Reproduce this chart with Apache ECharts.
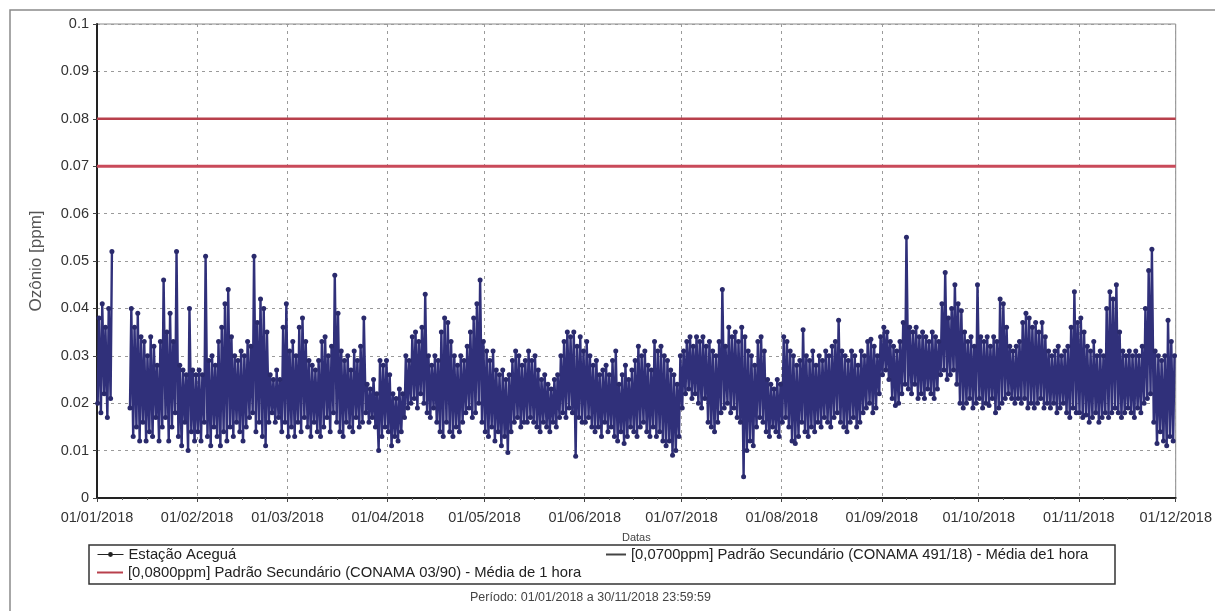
<!DOCTYPE html>
<html>
<head>
<meta charset="utf-8">
<script src="https://cdn.jsdelivr.net/npm/echarts@6/dist/echarts.min.js"></script>
<style>
html,body{margin:0;padding:0;background:#fff;}
#c{width:1215px;height:611px;}
</style>
</head>
<body>
<div id="c"></div>
<script>
// Day 0 = 01/01/2018 ... day 333 = 30/11/2018
const startDate = '2018-01-01';
const endDate = '2018-12-01';
const dailyMax = [
 // Jan
 0.038,0.041,0.036,0.040,0.052,null,null,null,null,null,0.040,0.036,0.039,0.034,0.033,0.030,0.034,0.032,0.028,0.033,0.046,0.035,0.039,0.033,0.052,0.028,0.027,0.026,0.040,0.027,0.026,
 // Feb
 0.027,0.026,0.051,0.029,0.030,0.028,0.033,0.036,0.041,0.044,0.034,0.030,0.029,0.031,0.030,0.033,0.032,0.051,0.037,0.042,0.040,0.035,0.026,0.025,0.027,0.025,0.036,0.041,
 // Mar
 0.031,0.033,0.030,0.036,0.038,0.033,0.029,0.028,0.027,0.029,0.033,0.034,0.030,0.032,0.047,0.039,0.031,0.029,0.030,0.027,0.031,0.029,0.032,0.038,0.024,0.023,0.025,0.022,0.029,0.028,0.029,
 // Apr
 0.026,0.022,0.021,0.023,0.022,0.030,0.029,0.034,0.035,0.033,0.036,0.043,0.030,0.028,0.030,0.029,0.035,0.038,0.037,0.033,0.030,0.028,0.030,0.029,0.032,0.035,0.038,0.041,0.046,0.033,
 // May
 0.031,0.029,0.031,0.027,0.026,0.027,0.025,0.026,0.029,0.031,0.030,0.028,0.029,0.031,0.029,0.030,0.027,0.025,0.026,0.024,0.023,0.025,0.026,0.030,0.033,0.035,0.034,0.035,0.032,0.034,0.031,
 // Jun
 0.033,0.030,0.028,0.029,0.026,0.027,0.028,0.026,0.029,0.031,0.024,0.026,0.028,0.025,0.027,0.029,0.032,0.030,0.031,0.028,0.027,0.033,0.031,0.032,0.030,0.029,0.027,0.026,0.024,0.030,
 // Jul
 0.031,0.033,0.034,0.032,0.034,0.033,0.034,0.032,0.033,0.031,0.030,0.033,0.044,0.032,0.036,0.034,0.035,0.033,0.036,0.034,0.031,0.030,0.028,0.033,0.034,0.031,0.025,0.024,0.023,0.025,0.024,
 // Aug
 0.034,0.033,0.031,0.030,0.028,0.029,0.0355,0.030,0.029,0.031,0.028,0.030,0.029,0.031,0.030,0.032,0.033,0.0375,0.031,0.030,0.029,0.031,0.030,0.028,0.031,0.030,0.033,0.0335,0.032,0.030,0.034,
 // Sep
 0.036,0.035,0.033,0.032,0.031,0.033,0.037,0.055,0.036,0.035,0.036,0.034,0.035,0.034,0.033,0.035,0.034,0.033,0.041,0.0476,0.038,0.040,0.045,0.041,0.0395,0.035,0.033,0.034,0.032,0.045,
 // Oct
 0.034,0.033,0.034,0.032,0.034,0.033,0.042,0.041,0.036,0.032,0.031,0.032,0.033,0.037,0.039,0.038,0.036,0.037,0.035,0.037,0.034,0.031,0.030,0.031,0.032,0.030,0.031,0.032,0.036,0.0435,0.037,
 // Nov
 0.038,0.035,0.032,0.031,0.033,0.030,0.031,0.030,0.040,0.0435,0.042,0.045,0.035,0.031,0.030,0.031,0.030,0.031,0.030,0.032,0.040,0.048,0.0525,0.031,0.030,0.029,0.030,0.0375,0.033,0.030
];
const dailyMin = [
 // Jan
 0.020,0.018,0.022,0.017,0.021,null,null,null,null,null,0.019,0.013,0.015,0.012,0.016,0.012,0.014,0.013,0.017,0.012,0.015,0.017,0.012,0.015,0.018,0.013,0.011,0.016,0.010,0.014,0.012,
 // Feb
 0.014,0.012,0.016,0.013,0.011,0.015,0.013,0.011,0.014,0.012,0.015,0.013,0.016,0.014,0.012,0.015,0.017,0.018,0.014,0.016,0.013,0.011,0.016,0.018,0.016,0.017,0.014,0.016,
 // Mar
 0.013,0.015,0.013,0.016,0.014,0.017,0.015,0.013,0.016,0.014,0.013,0.015,0.017,0.014,0.018,0.016,0.014,0.013,0.016,0.015,0.014,0.017,0.015,0.016,0.018,0.016,0.017,0.015,0.010,0.013,0.015,
 // Apr
 0.014,0.011,0.013,0.012,0.014,0.017,0.019,0.020,0.021,0.019,0.022,0.020,0.018,0.017,0.019,0.016,0.014,0.013,0.016,0.014,0.013,0.015,0.014,0.016,0.018,0.019,0.017,0.018,0.020,0.016,
 // May
 0.014,0.013,0.015,0.012,0.014,0.011,0.013,0.0096,0.014,0.016,0.017,0.015,0.016,0.016,0.017,0.016,0.015,0.014,0.016,0.015,0.014,0.016,0.015,0.017,0.018,0.017,0.019,0.018,0.0088,0.017,0.016,
 // Jun
 0.016,0.017,0.015,0.014,0.015,0.013,0.016,0.014,0.015,0.013,0.012,0.014,0.0115,0.013,0.015,0.014,0.013,0.015,0.016,0.014,0.013,0.015,0.013,0.014,0.012,0.011,0.012,0.009,0.010,0.013,
 // Jul
 0.019,0.022,0.023,0.021,0.022,0.020,0.019,0.021,0.016,0.015,0.014,0.016,0.018,0.019,0.020,0.018,0.019,0.017,0.016,0.0045,0.010,0.012,0.011,0.015,0.017,0.016,0.014,0.013,0.015,0.014,0.013,
 // Aug
 0.016,0.017,0.015,0.012,0.0115,0.013,0.016,0.014,0.013,0.015,0.014,0.016,0.015,0.017,0.016,0.015,0.017,0.018,0.016,0.015,0.014,0.016,0.017,0.015,0.016,0.018,0.019,0.020,0.018,0.019,0.022,
 // Sep
 0.026,0.027,0.025,0.021,0.0195,0.020,0.022,0.024,0.023,0.022,0.024,0.021,0.022,0.021,0.023,0.022,0.021,0.023,0.026,0.027,0.025,0.026,0.027,0.024,0.020,0.019,0.020,0.021,0.019,0.020,
 // Oct
 0.021,0.019,0.020,0.0195,0.021,0.018,0.019,0.020,0.021,0.022,0.021,0.020,0.021,0.020,0.021,0.019,0.020,0.019,0.020,0.021,0.019,0.020,0.019,0.020,0.018,0.019,0.020,0.018,0.017,0.019,0.018,
 // Nov
 0.018,0.017,0.0175,0.016,0.017,0.018,0.016,0.017,0.018,0.017,0.018,0.019,0.018,0.017,0.018,0.019,0.018,0.017,0.019,0.018,0.020,0.021,0.022,0.016,0.0115,0.014,0.012,0.011,0.013,0.012
];
const limit1 = 0.08;  // CONAMA 03/90
const limit2 = 0.07;  // CONAMA 491/18
const yTicks = [0,0.01,0.02,0.03,0.04,0.05,0.06,0.07,0.08,0.09,0.1];

const seriesNames = [
 'Estação Aceguá',
 '[0,0700ppm] Padrão Secundário (CONAMA 491/18) - Média de1 hora',
 '[0,0800ppm] Padrão Secundário (CONAMA 03/90) - Média de 1 hora'
];

const DAY = 86400000;
const t0 = Date.parse(startDate + 'T00:00:00Z');
const t1 = Date.parse(endDate + 'T00:00:00Z');
const mainData = [];
for (let d = 0; d < dailyMax.length; d++) {
  const base = t0 + d * DAY;
  if (dailyMax[d] == null) { mainData.push([base + 12 * 3600000, null]); continue; }
  mainData.push([base + 5 * 3600000, dailyMin[d]]);
  mainData.push([base + 15 * 3600000, dailyMax[d]]);
}

const pad = n => (n < 10 ? '0' : '') + n;
const fmtDate = v => { const d = new Date(v); return pad(d.getUTCDate()) + '/' + pad(d.getUTCMonth() + 1) + '/' + d.getUTCFullYear(); };

const chart = echarts.init(document.getElementById('c'), null, {renderer: 'canvas'});
const font = 'Liberation Sans, Arial, sans-serif';
const legendText = {fontSize: 14.8, color: '#222', fontFamily: font};
chart.setOption({
  useUTC: true,
  animation: false,
  backgroundColor: '#fff',
  textStyle: {fontFamily: font},
  grid: {left: 97, right: 38, top: 24, bottom: 113, show: true, borderColor: '#8a8a8a', borderWidth: 1},
  xAxis: {
    type: 'time', min: t0, max: t1,
    minInterval: 28 * DAY, maxInterval: 31 * DAY,
    name: 'Datas', nameLocation: 'middle', nameGap: 34,
    nameTextStyle: {fontSize: 11, color: '#444', fontFamily: font},
    axisLine: {lineStyle: {color: '#222', width: 2}},
    axisTick: {show: true, length: 4, lineStyle: {color: '#444'}},
    minorTick: {show: true, splitNumber: 4, length: 2, lineStyle: {color: '#666'}},
    axisLabel: {formatter: fmtDate, fontSize: 14.5, color: '#333', margin: 12, fontFamily: font, hideOverlap: false, showMinLabel: true, showMaxLabel: true},
    splitLine: {show: true, lineStyle: {color: '#9a9a9a', type: [3, 4], width: 1}}
  },
  yAxis: {
    type: 'value', min: 0, max: 0.1, interval: 0.01,
    name: 'Ozônio [ppm]', nameLocation: 'middle', nameGap: 52,
    nameTextStyle: {fontSize: 17, color: '#555', fontFamily: font},
    axisLine: {show: true, lineStyle: {color: '#222', width: 2}},
    axisTick: {show: true, length: 4, lineStyle: {color: '#444'}},
    axisLabel: {formatter: v => { const f = yTicks.find(x => Math.abs(x - v) < 1e-9); return f === undefined ? '' : String(f); }, fontSize: 14.5, color: '#333', margin: 8, fontFamily: font},
    splitLine: {show: true, lineStyle: {color: '#9a9a9a', type: [3, 4], width: 1}}
  },
  legend: [
    {left: 97, top: 547, itemWidth: 26, itemHeight: 6, itemGap: 10, padding: 0,
     textStyle: legendText,
     data: [{name: seriesNames[0], itemStyle: {color: '#222'}, lineStyle: {color: '#222', width: 1}}]},
    {left: 606, top: 547, itemWidth: 20, itemHeight: 2, padding: 0,
     textStyle: legendText,
     data: [{name: seriesNames[1], icon: 'rect', itemStyle: {color: '#444'}}]},
    {left: 97, top: 565, itemWidth: 26, itemHeight: 2, padding: 0,
     textStyle: legendText,
     data: [{name: seriesNames[2], icon: 'rect', itemStyle: {color: '#b8404c'}}]}
  ],
  graphic: [
    {type: 'rect', silent: true, shape: {x: 10, y: 10, width: 1230, height: 640}, style: {fill: 'none', stroke: '#8a8a8a', lineWidth: 1.5}},
    {type: 'rect', silent: true, shape: {x: 89, y: 545, width: 1026, height: 39}, style: {fill: 'none', stroke: '#333', lineWidth: 1.5}},
    {type: 'text', silent: true, left: 470, top: 591, style: {text: 'Período: 01/01/2018 a 30/11/2018 23:59:59', font: '12.5px ' + font, fill: '#444'}}
  ],
  series: [
    {
      name: seriesNames[0], type: 'line', data: mainData, connectNulls: false,
      symbol: 'circle', symbolSize: 5, showSymbol: true, showAllSymbol: true,
      itemStyle: {color: '#2a2a6c'}, lineStyle: {color: '#30307a', width: 2.4},
      z: 3
    },
    {
      name: seriesNames[1], type: 'line', data: [[t0, limit2], [t1, limit2]],
      symbol: 'none', itemStyle: {color: '#c94a5a'}, lineStyle: {color: '#c94a5a', width: 3}, z: 4
    },
    {
      name: seriesNames[2], type: 'line', data: [[t0, limit1], [t1, limit1]],
      symbol: 'none', itemStyle: {color: '#b8404c'}, lineStyle: {color: '#b8404c', width: 2.5}, z: 4
    }
  ]
});
</script>
</body>
</html>
